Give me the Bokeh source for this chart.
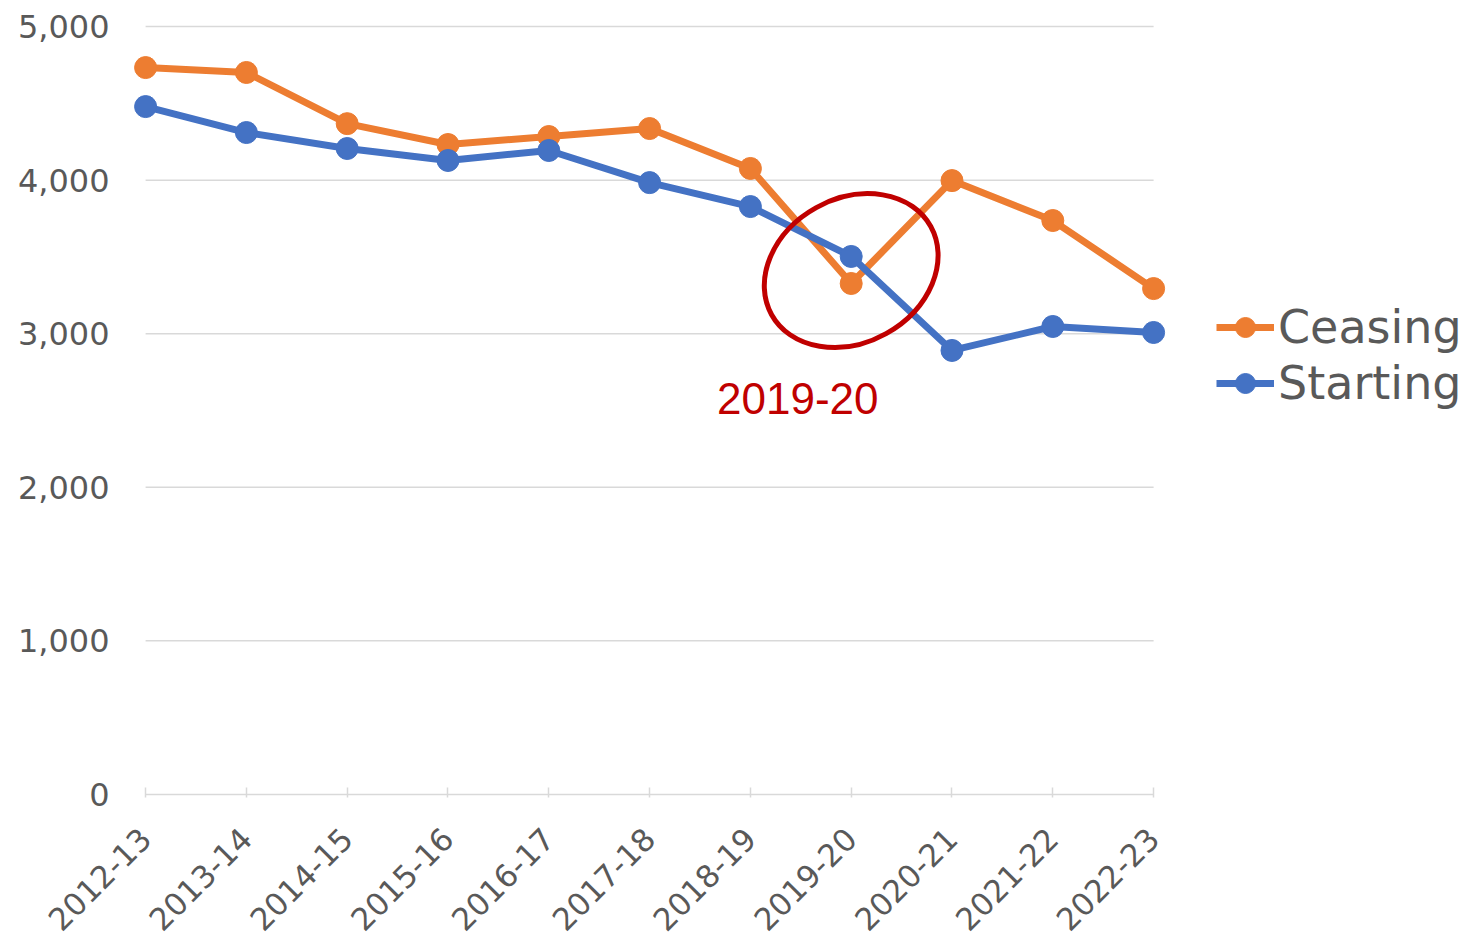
import math
from bokeh.plotting import figure
from bokeh.models import (Range1d, FixedTicker, NumeralTickFormatter, Legend, LegendItem, Label)
from bokeh.embed import file_html
from bokeh.resources import INLINE

# ---- data ----
years = ["2012-13", "2013-14", "2014-15", "2015-16", "2016-17", "2017-18",
         "2018-19", "2019-20", "2020-21", "2021-22", "2022-23"]
ceasing = [4733, 4701, 4368, 4232, 4284, 4336, 4076, 3327, 3997, 3737, 3294]
starting = [4479, 4310, 4206, 4128, 4193, 3984, 3828, 3503, 2891, 3047, 3008]
y_ticks = [0, 1000, 2000, 3000, 4000, 5000]
highlight_year = "2019-20"
highlight_y = 3411
note_text = "2019-20"
note_y = 2578

FONT = "DejaVu Sans"
GRAY = "#595959"
GRID = "#D9D9D9"
ORANGE = "#ED7D31"
BLUE = "#4472C4"
RED = "#C00000"

xs = list(range(len(years)))

# frame extends to the right to host the legend (gridlines drawn only over categories)
p = figure(frame_width=1335, frame_height=774, output_backend="svg", toolbar_location=None,
           x_range=Range1d(-0.12, 13.124),
           y_range=Range1d(-20, 5020),
           min_border_left=133, min_border_right=0,
           min_border_top=23, min_border_bottom=140)
p.outline_line_color = None
p.xgrid.visible = False
p.ygrid.visible = False
p.background_fill_color = "white"

p.segment(x0=[0] * len(y_ticks), x1=[len(years) - 1] * len(y_ticks), y0=y_ticks, y1=y_ticks,
          line_color=GRID, line_width=1.5)

# series
lc = p.line(xs, ceasing, line_color=ORANGE, line_width=7)
sc = p.scatter(xs, ceasing, size=22, fill_color=ORANGE, line_color=ORANGE)
ls = p.line(xs, starting, line_color=BLUE, line_width=7)
ss = p.scatter(xs, starting, size=22, fill_color=BLUE, line_color=BLUE)

# annotation
hx = years.index(highlight_year)
p.ellipse(x=[hx], y=[highlight_y], width=182, height=144, angle=29, angle_units="deg",
          width_units="screen", height_units="screen",
          fill_color=None, line_color=RED, line_width=5)
p.add_layout(Label(x=hx - 0.53, y=note_y, text=note_text, text_font="Liberation Sans",
                   text_font_size="44px", text_color=RED, text_align="center",
                   text_baseline="middle"))

# axes
p.xaxis.ticker = FixedTicker(ticks=xs)
p.xaxis.major_label_overrides = {i: y for i, y in enumerate(years)}
p.xaxis.major_label_orientation = math.pi / 4
p.xaxis.axis_line_color = None
p.xaxis.major_tick_in = 10
p.xaxis.major_tick_out = 0
p.xaxis.major_tick_line_color = GRID
p.xaxis.major_tick_line_width = 1.5
p.xaxis.minor_tick_line_color = None
p.xaxis.major_label_standoff = 36
p.xaxis.major_label_text_font = FONT
p.xaxis.major_label_text_font_size = "31px"
p.xaxis.major_label_text_color = GRAY

p.yaxis.ticker = FixedTicker(ticks=y_ticks)
p.yaxis.formatter = NumeralTickFormatter(format="0,0")
p.yaxis.axis_line_color = None
p.yaxis.major_tick_line_color = None
p.yaxis.minor_tick_line_color = None
p.yaxis.major_label_standoff = 18
p.yaxis.major_label_text_font = FONT
p.yaxis.major_label_text_font_size = "32px"
p.yaxis.major_label_text_color = GRAY

legend = Legend(items=[LegendItem(label="Ceasing", renderers=[lc, sc]),
                       LegendItem(label="Starting", renderers=[ls, ss])],
                location=(1083, 387), orientation="vertical",
                glyph_width=58, glyph_height=50, label_height=50, spacing=2,
                label_standoff=4, padding=0, margin=0,
                border_line_color=None, background_fill_alpha=0,
                label_text_font=FONT, label_text_font_size="46px",
                label_text_color=GRAY)
p.add_layout(legend, "center")

open("out.html", "w").write(file_html(p, INLINE))
